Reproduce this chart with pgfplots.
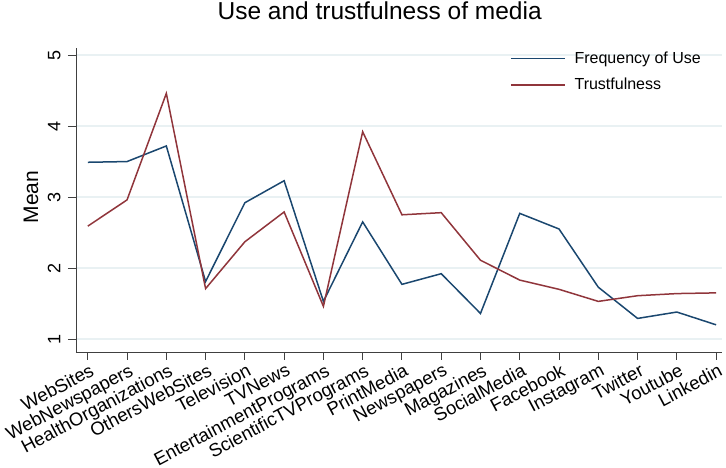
\documentclass[border=0pt]{standalone}
\usepackage{fontspec}
\setmainfont{Liberation Sans}
\usepackage{pgfplots}
\pgfplotsset{compat=1.18}
\definecolor{statanavy}{RGB}{26,71,111}
\definecolor{statamaroon}{RGB}{144,53,59}
\definecolor{gridc}{RGB}{233,241,243}
\begin{document}
\begin{tikzpicture}
\begin{axis}[
  scale only axis,
  width=646pt, height=304pt,
  xmin=-0.3, xmax=16.15,
  ymin=0.817, ymax=5.1,
  axis lines*=left,
  axis line style={line width=0.9pt, color=black!75},
  xtick={0,...,16},
  xticklabels={WebSites,WebNewspapers,HealthOrganizations,OthersWebSites,Television,TVNews,EntertainmentPrograms,ScientificTVPrograms,PrintMedia,Newspapers,Magazines,SocialMedia,Facebook,Instagram,Twitter,Youtube,Linkedin},
  xticklabel style={xshift=2pt, rotate=28, anchor=north east, font=\fontsize{18.5}{18.5}\selectfont, inner sep=2pt},
  ytick={1,2,3,4,5},
  yticklabel style={rotate=90, anchor=south, font=\fontsize{18}{18}\selectfont},
  yticklabel shift=4pt,
  /pgf/number format/assume math mode=true,
  tick align=outside,
  major tick length=8pt,
  tick style={line width=0.9pt, color=black!75},
  ymajorgrids,
  grid style={line width=1.4pt, color=gridc},
  ylabel={Mean},
  ylabel style={font=\fontsize{21}{21}\selectfont, at={(axis description cs:-0.0697,0.51)}, anchor=center},
  title={Use and trustfulness of media},
  title style={font=\fontsize{24.5}{24.5}\selectfont, at={(axis description cs:0.47,1)}, anchor=base, yshift=22pt},
  legend style={draw=none, fill=none, at={(axis description cs:0.667,1.0)}, anchor=north west,
    font=\fontsize{16}{16}\selectfont, row sep=9pt},
  legend cell align=left,
  legend image code/.code={\draw[#1] (0pt,0pt) -- (54pt,0pt); \path (61pt,0pt);},
]
\addplot[color=statanavy, line width=1.5pt] coordinates {
  (0,3.49) (1,3.50) (2,3.72) (3,1.81) (4,2.92) (5,3.23) (6,1.53) (7,2.65)
  (8,1.77) (9,1.92) (10,1.36) (11,2.77) (12,2.55) (13,1.73) (14,1.29) (15,1.38) (16,1.20)
};
\addplot[color=statamaroon, line width=1.5pt] coordinates {
  (0,2.59) (1,2.96) (2,4.46) (3,1.71) (4,2.37) (5,2.79) (6,1.46) (7,3.92)
  (8,2.75) (9,2.78) (10,2.11) (11,1.83) (12,1.70) (13,1.53) (14,1.61) (15,1.64) (16,1.65)
};
\legend{Frequency of Use, Trustfulness}
\coordinate (o) at (rel axis cs:0,0);
\end{axis}
\pgfresetboundingbox
\path[use as bounding box] (o) ++(-76pt,-116pt) rectangle ++(726pt,468pt);
\end{tikzpicture}
\end{document}
